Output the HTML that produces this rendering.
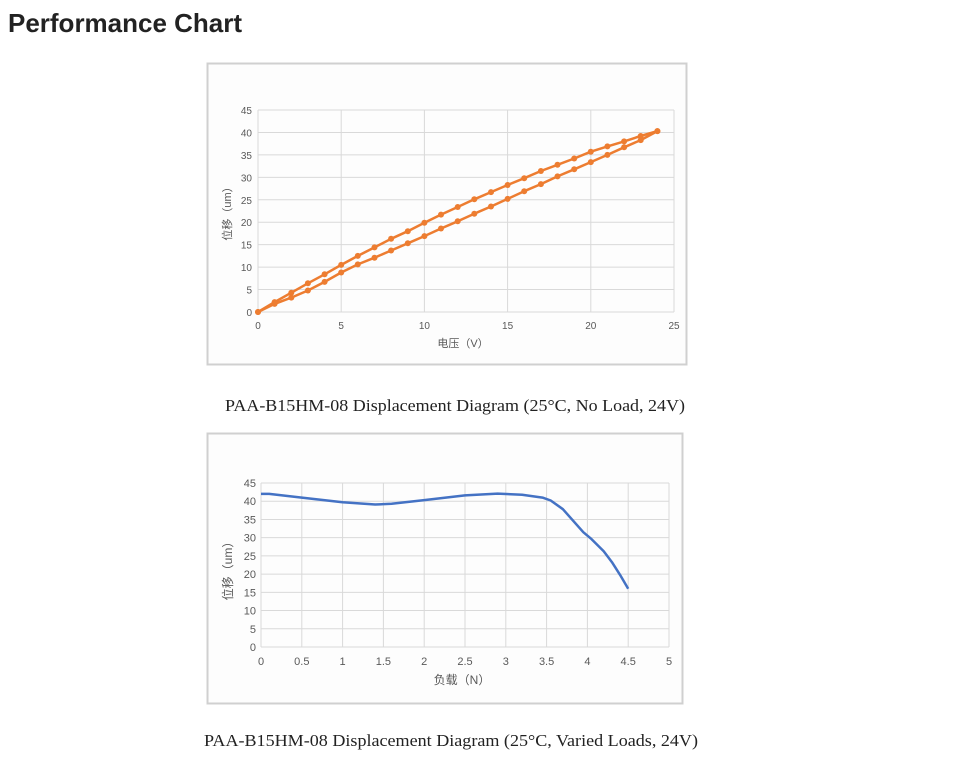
<!DOCTYPE html>
<html><head><meta charset="utf-8">
<style>
html,body{margin:0;padding:0;background:#fff;width:957px;height:760px;overflow:hidden}
svg{display:block}
</style></head>
<body>
<svg id="s" width="957" height="760" xmlns="http://www.w3.org/2000/svg">
<text x="8" y="32" font-family="'Liberation Sans',sans-serif" font-size="26" font-weight="bold" fill="#222" textLength="234" lengthAdjust="spacingAndGlyphs">Performance Chart</text>
<rect x="207.5" y="63.5" width="479" height="301" fill="#fdfdfd" stroke="#d0d0d0" stroke-width="2"/>
<rect x="207.5" y="433.5" width="475" height="270" fill="#fdfdfd" stroke="#d0d0d0" stroke-width="2"/>
<text x="455" y="411" text-anchor="middle" font-family="'Liberation Serif',serif" font-size="17" fill="#222" textLength="460" lengthAdjust="spacingAndGlyphs">PAA-B15HM-08 Displacement Diagram (25°C, No Load, 24V)</text>
<text x="451" y="746" text-anchor="middle" font-family="'Liberation Serif',serif" font-size="17" fill="#222" textLength="494" lengthAdjust="spacingAndGlyphs">PAA-B15HM-08 Displacement Diagram (25°C, Varied Loads, 24V)</text>
<g id="g"></g>
</svg>
<script>
var g=document.getElementById('g'),h='';
var F="font-family=\"'Liberation Sans','Noto Sans CJK SC',sans-serif\" fill=\"#595959\"";
// chart1
var x0=258,x1=674,y0=312,y1=110;
function X1(v){return x0+(x1-x0)*v/25} function Y1(v){return y0+(y1-y0)*v/45}
for(var i=0;i<=9;i++){var y=Y1(i*5);h+='<line x1="'+x0+'" x2="'+x1+'" y1="'+y+'" y2="'+y+'" stroke="#d9d9d9" stroke-width="1"/>';
h+='<text x="'+(x0-6)+'" y="'+(y+4)+'" text-anchor="end" font-size="10" '+F+'>'+i*5+'</text>';}
for(var i=0;i<=5;i++){var x=X1(i*5);h+='<line x1="'+x+'" x2="'+x+'" y1="'+y1+'" y2="'+y0+'" stroke="#d9d9d9" stroke-width="1"/>';
h+='<text x="'+x+'" y="'+(y0+17)+'" text-anchor="middle" font-size="10" '+F+'>'+i*5+'</text>';}
h+='<text x="463" y="347" text-anchor="middle" font-size="11" '+F+'>电压（V）</text>';
h+='<text transform="translate(231,211) rotate(-90)" text-anchor="middle" font-size="11" '+F+'>位移（um）</text>';
var up=[0,2.2,4.3,6.4,8.4,10.5,12.5,14.4,16.3,18,19.9,21.7,23.4,25.1,26.7,28.3,29.8,31.4,32.8,34.2,35.7,36.9,38,39.2,40.3];
var lo=[0,1.8,3.2,4.8,6.7,8.8,10.6,12.1,13.7,15.3,16.9,18.6,20.2,21.9,23.5,25.2,26.9,28.5,30.2,31.8,33.4,35,36.7,38.3,40.3];
[up,lo].forEach(function(a){var p=a.map(function(v,i){return X1(i).toFixed(1)+','+Y1(v).toFixed(1)}).join(' ');
h+='<polyline points="'+p+'" fill="none" stroke="#ed7d31" stroke-width="2.5" stroke-linejoin="round"/>';
a.forEach(function(v,i){h+='<circle cx="'+X1(i).toFixed(1)+'" cy="'+Y1(v).toFixed(1)+'" r="3" fill="#ed7d31"/>'})});
// chart2
var a0=261,a1=669,b0=647,b1=483;
function X2(v){return a0+(a1-a0)*v/5} function Y2(v){return b0+(b1-b0)*v/45}
for(var i=0;i<=9;i++){var y=Y2(i*5);h+='<line x1="'+a0+'" x2="'+a1+'" y1="'+y+'" y2="'+y+'" stroke="#d9d9d9" stroke-width="1"/>';
h+='<text x="'+(a0-5)+'" y="'+(y+4)+'" text-anchor="end" font-size="11" '+F+'>'+i*5+'</text>';}
for(var i=0;i<=10;i++){var x=X2(i*0.5);h+='<line x1="'+x+'" x2="'+x+'" y1="'+b1+'" y2="'+b0+'" stroke="#d9d9d9" stroke-width="1"/>';
h+='<text x="'+x+'" y="'+(b0+18)+'" text-anchor="middle" font-size="11" '+F+'>'+(i*0.5)+'</text>';}
h+='<text x="462" y="684" text-anchor="middle" font-size="12" '+F+'>负载（N）</text>';
h+='<text transform="translate(232,568) rotate(-90)" text-anchor="middle" font-size="12" '+F+'>位移（um）</text>';
var c=[[0,42],[0.1,42],[0.5,41],[1,39.7],[1.4,39.1],[1.6,39.3],[2,40.3],[2.5,41.6],[2.9,42.1],[3.2,41.8],[3.45,41],[3.55,40.2],[3.7,37.8],[3.85,34],[3.95,31.5],[4.05,29.6],[4.2,26.3],[4.3,23.3],[4.4,19.8],[4.5,16]];
var d='M'+c.map(function(p){return X2(p[0]).toFixed(1)+','+Y2(p[1]).toFixed(1)}).join(' L');
h+='<path d="'+d+'" fill="none" stroke="#4472c4" stroke-width="2.5" stroke-linejoin="round"/>';
g.innerHTML=h;
</script>
</body></html>
